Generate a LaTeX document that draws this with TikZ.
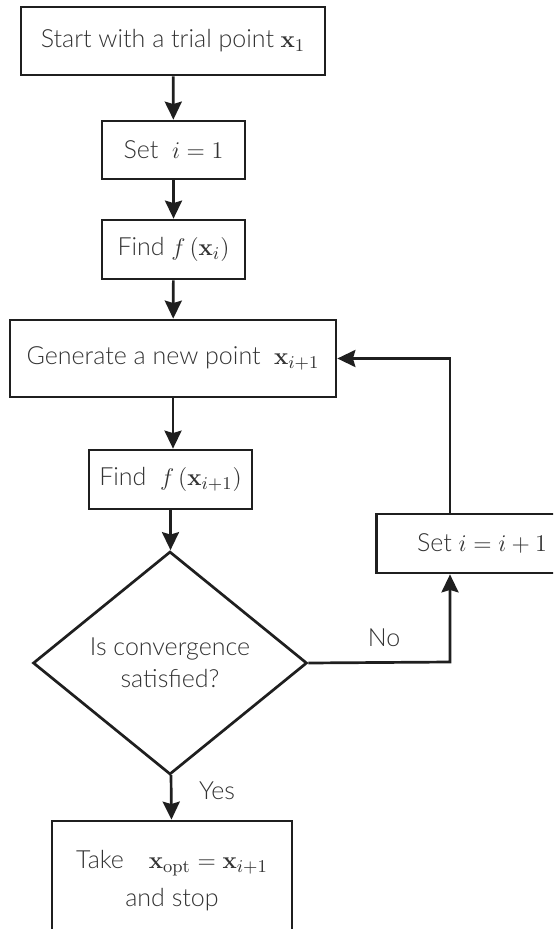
\documentclass[tikz,border=0pt]{standalone}
\usepackage{amsmath}
\usepackage[no-math]{fontspec}
\setmainfont{Lato Light}
\usetikzlibrary{arrows.meta,shapes.geometric,positioning}

\tikzset{
  box/.style={draw=black!88, line width=1.35pt, rectangle, inner sep=0pt,
    align=center, text=black!80, font=\fontsize{12.5}{19}\selectfont},
  decision/.style={draw=black!88, line width=1.35pt, diamond, inner sep=0pt,
    align=center, text=black!80, font=\fontsize{12.5}{16}\selectfont},
  flow/.style={draw=black!88, line width=1.35pt, -{Stealth[length=9pt,width=8.5pt,inset=1.2pt]}},
  lbl/.style={text=black!80, font=\fontsize{12.5}{15}\selectfont},
}

\begin{document}
\begin{tikzpicture}[x=0.5pt,y=-0.5pt]
\useasboundingbox (0,0) rectangle (553,929);
\clip (0,0) rectangle (553,929);

% main column
\node[box, minimum width=152pt, minimum height=34pt] (start) at (173,41)
  {Start with a trial point $\mathbf{x}_1$};
\node[box, minimum width=71.5pt, minimum height=29pt] (seti) at (173.5,150)
  {Set~ $i=1$};
\node[box, minimum width=71.5pt, minimum height=29.5pt] (findi) at (173.5,249.5)
  {Find $f\left(\mathbf{x}_i\right)$};
\node[box, minimum width=163pt, minimum height=38.5pt] (gen) at (173,358.5)
  {Generate a new point~ $\mathbf{x}_{i+1}$};
\node[box, minimum width=81.5pt, minimum height=29.5pt] (findnew) at (170.5,479.5)
  {Find~ $f\left(\mathbf{x}_{i+1}\right)$};
\node[decision, minimum width=137pt, minimum height=111.5pt] (conv) at (170,663)
  {Is convergence\\satisfied?};
\node[box, minimum width=120pt, minimum height=60pt] (stop) at (172,881)
  {Take\quad $\mathbf{x}_{\mathrm{opt}}=\mathbf{x}_{i+1}$\\and stop};

% loop back
\node[box, minimum width=105.5pt, minimum height=29.5pt] (incr) at (482,543.5)
  {Set $i=i+1$};
\coordinate (turn) at (450,662);

\draw[flow] (start) -- (seti);
\draw[flow] (seti) -- (findi);
\draw[flow] (findi) -- (gen);
\draw[flow] (gen) -- (gen |- findnew.north);
\draw[flow] (findnew) -- (findnew |- conv.north);
\draw[flow] (conv) -- (stop) node[lbl, pos=0.35, right=10pt] {Yes};
\draw[flow] (conv.east) -- (turn) -- (turn |- incr.south);
\draw[flow] (turn |- incr.north) |- (gen.east);
\node[lbl] (no) at (384,638) {No};
\end{tikzpicture}
\end{document}
